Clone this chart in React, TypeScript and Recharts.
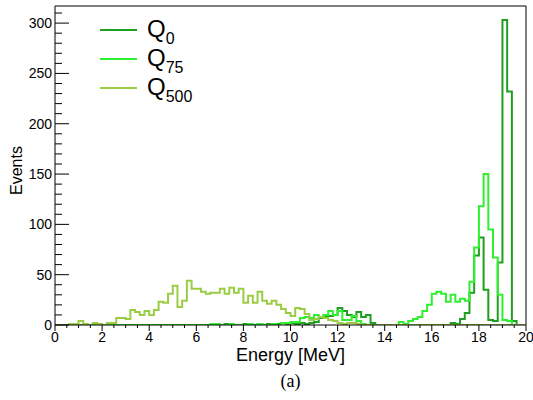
import { LineChart, Line, XAxis, YAxis, ReferenceLine, Legend, Label } from 'recharts'

// 100 bins of 0.2 MeV between 0 and 20 MeV
const BIN_WIDTH = 0.2
const Y_MAX = 317

const Q0 = [
  0, 0, 0, 0, 0, 0, 0, 0, 0, 0,
  0, 0, 0, 0, 0, 0, 0, 0, 0, 0,
  0, 0, 0, 0, 0, 0, 0, 0, 0, 0,
  0, 0, 0, 0, 0, 0, 1, 0, 0, 0,
  1, 0, 0, 1, 0, 1, 0, 1, 2, 1,
  2, 1, 2, 1, 2, 3, 7, 9, 9, 10,
  17, 14, 10, 8, 13, 8, 10, 2, 0, 0,
  0, 0, 0, 0, 0, 0, 0, 0, 0, 0,
  0, 0, 0, 0, 2, 1, 6, 12, 32, 69,
  87, 35, 5, 4, 62, 303, 232, 4, 0, 0,
]

const Q75 = [
  0, 0, 0, 0, 0, 0, 0, 0, 0, 0,
  0, 0, 0, 0, 0, 0, 0, 0, 0, 0,
  0, 0, 0, 0, 0, 0, 0, 0, 0, 0,
  0, 0, 0, 1, 1, 0, 0, 1, 0, 0,
  0, 1, 0, 1, 0, 0, 1, 0, 2, 2,
  3, 3, 7, 8, 7, 10, 8, 10, 14, 10,
  14, 5, 5, 9, 4, 1, 0, 0, 0, 0,
  0, 0, 0, 3, 1, 4, 6, 8, 14, 20,
  31, 33, 31, 23, 30, 23, 26, 24, 43, 77,
  118, 150, 95, 67, 30, 5, 4, 0, 0, 0,
]

const Q500 = [
  0, 0, 0, 1, 1, 4, 1, 0, 2, 1,
  0, 2, 2, 7, 7, 6, 15, 13, 10, 14,
  10, 15, 23, 22, 31, 39, 18, 24, 44, 36,
  36, 33, 31, 32, 32, 36, 31, 37, 32, 36,
  22, 29, 22, 33, 24, 21, 24, 20, 16, 12,
  9, 17, 16, 11, 5, 6, 8, 7, 5, 4,
  2, 1, 2, 2, 1, 0, 0, 0, 0, 0,
  0, 0, 0, 0, 0, 0, 0, 0, 0, 0,
  0, 0, 0, 0, 0, 0, 0, 0, 0, 0,
  0, 0, 0, 0, 0, 0, 0, 0, 0, 0,
]

const X_LABELS = [0, 2, 4, 6, 8, 10, 12, 14, 16, 18, 20]
const Y_LABELS = [0, 50, 100, 150, 200, 250, 300]
const X_MINOR_STEP = 0.5
const Y_MINOR_STEP = 10

const SERIES = [
  { key: 'q0', sub: '0', color: '#1f9f1f' },
  { key: 'q75', sub: '75', color: '#2ef02e' },
  { key: 'q500', sub: '500', color: '#9acd45' },
]

// one point per lower bin edge, plus the upper edge of the last bin
const data = Array.from({ length: Q0.length + 1 }, (_, i) => {
  const j = Math.min(i, Q0.length - 1)
  return { e: +(i * BIN_WIDTH).toFixed(1), q0: Q0[j], q75: Q75[j], q500: Q500[j] }
})

const xTicks = Array.from({ length: X_LABELS[X_LABELS.length - 1] / X_MINOR_STEP + 1 }, (_, i) => i * X_MINOR_STEP)
const yTicks = Array.from({ length: Math.floor(Y_MAX / Y_MINOR_STEP) + 1 }, (_, i) => i * Y_MINOR_STEP)

const FONT = 'Liberation Sans, Arial, Helvetica, sans-serif'

const XTick = ({ x, y, payload }: any) => {
  const major = X_LABELS.includes(payload.value)
  return (
    <g>
      <line x1={x} x2={x} y1={y} y2={y + (major ? 6 : 3)} stroke="#000" strokeWidth={1} />
      {major && (
        <text x={x} y={y + 17} textAnchor="middle" fontSize={14} fontFamily={FONT} fill="#000">
          {payload.value}
        </text>
      )}
    </g>
  )
}

const YTick = ({ x, y, payload }: any) => {
  const major = Y_LABELS.includes(payload.value)
  return (
    <g>
      <line x1={x} x2={x + (major ? 14 : 7)} y1={y} y2={y} stroke="#000" strokeWidth={1} />
      {major && (
        <text x={x - 3} y={y} dy="0.35em" textAnchor="end" fontSize={14} fontFamily={FONT} fill="#000">
          {payload.value}
        </text>
      )}
    </g>
  )
}

const renderLegend = () => (
  <svg width={200} height={110}>
    {SERIES.map((s, i) => {
      const cy = 30 + i * 29
      return (
        <g key={s.key}>
          <line x1={100} x2={137} y1={cy} y2={cy} stroke={s.color} strokeWidth={2} />
          <text x={147} y={cy + 7} fontSize={24} fontFamily={FONT} fill="#000">
            Q<tspan fontSize={16} dy={7}>{s.sub}</tspan>
          </text>
        </g>
      )
    })}
  </svg>
)

export default function App() {
  return (
    <div style={{ position: 'absolute', left: 0, top: 0, width: 533, height: 400, background: '#fff' }}>
      <LineChart width={533} height={400} data={data} margin={{ top: 6, right: 7, left: 5, bottom: 45 }}>
        <XAxis
          dataKey="e"
          type="number"
          domain={[0, 20]}
          ticks={xTicks}
          interval={0}
          tick={<XTick />}
          tickLine={false}
          tickSize={0}
          tickMargin={0}
          height={30}
          axisLine={{ stroke: '#000' }}
        >
          <Label
            content={({ viewBox }: any) => (
              <g>
                <text x={viewBox.x + viewBox.width / 2} y={viewBox.y + 36} textAnchor="middle" fontSize={18} fontFamily={FONT} fill="#000">
                  Energy [MeV]
                </text>
                <text x={viewBox.x + viewBox.width / 2} y={viewBox.y + 62} textAnchor="middle" fontSize={18} fontFamily="Liberation Serif, serif" fill="#000">
                  (a)
                </text>
              </g>
            )}
          />
        </XAxis>
        <YAxis
          type="number"
          domain={[0, Y_MAX]}
          ticks={yTicks}
          interval={0}
          tick={<YTick />}
          tickLine={false}
          tickSize={0}
          tickMargin={0}
          width={50}
          axisLine={{ stroke: '#000' }}
          allowDataOverflow
        >
          <Label
            content={({ viewBox }: any) => {
              const cx = 22
              const cy = viewBox.y + viewBox.height / 2 + 5
              return (
                <text x={cx} y={cy} transform={`rotate(-90, ${cx}, ${cy})`} textAnchor="middle" fontSize={16} fontFamily={FONT} fill="#000">
                  Events
                </text>
              )
            }}
          />
        </YAxis>
        <ReferenceLine y={Y_MAX} stroke="#000" strokeWidth={1} />
        <ReferenceLine x={20} stroke="#000" strokeWidth={1} />
        <Legend
          layout="vertical"
          align="center"
          verticalAlign="middle"
          content={renderLegend}
          wrapperStyle={{ left: 0, top: 0, width: 200, height: 110 }}
        />
        {SERIES.map((s) => (
          <Line
            key={s.key}
            type="stepAfter"
            dataKey={s.key}
            stroke={s.color}
            strokeWidth={2}
            dot={false}
            isAnimationActive={false}
          />
        ))}
      </LineChart>
    </div>
  )
}
